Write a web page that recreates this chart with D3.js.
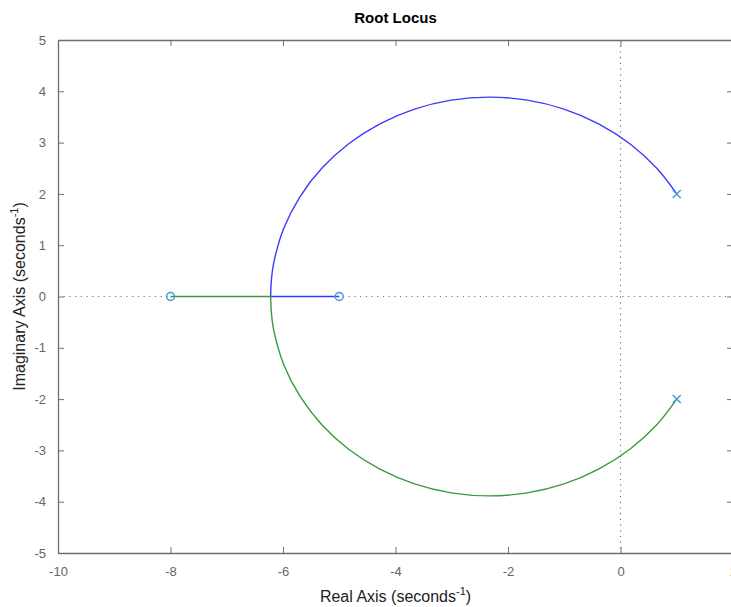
<!DOCTYPE html>
<html>
<head>
<meta charset="utf-8">
<script src="https://cdn.jsdelivr.net/npm/d3@7"></script>
<style>
  body { margin: 0; background: #fff; }
  svg { font-family: "Liberation Sans", Arial, sans-serif; }
</style>
</head>
<body>
<div class="container"></div>
<script>
// Locus branches (real, imaginary)
const blueBranch = [
  [1.0, 2.0], [0.645, 2.499], [0.166, 2.977], [-0.39, 3.366], [-1.004, 3.653],
  [-1.658, 3.828], [-2.333, 3.887], [-3.008, 3.828], [-3.662, 3.653], [-4.277, 3.366],
  [-4.832, 2.977], [-5.311, 2.499], [-5.699, 1.944], [-5.986, 1.329], [-6.161, 0.675],
  [-6.205, 0.339], [-6.22, 0], [-5.0, 0]
]
const greenBranch = [
  [1.0, -2.0], [0.645, -2.499], [0.166, -2.977], [-0.39, -3.366], [-1.004, -3.653],
  [-1.658, -3.828], [-2.333, -3.887], [-3.008, -3.828], [-3.662, -3.653], [-4.277, -3.366],
  [-4.832, -2.977], [-5.311, -2.499], [-5.699, -1.944], [-5.986, -1.329], [-6.161, -0.675],
  [-6.205, -0.339], [-6.22, 0], [-8.0, 0]
]
const poles = [[1, 2], [1, -2]]
const zeros = [[-5, 0], [-8, 0]]
const xTicks = [-10, -8, -6, -4, -2, 0, 2]
const yTicks = [-5, -4, -3, -2, -1, 0, 1, 2, 3, 4, 5]

const w = 731
const h = 607
const padLeft = 58, padTop = 40, padRight = 733, padBottom = 553
const axisColor = "#6e6e6e"
const textColor = "#666"
const markerColor = "#3f98d8"

const xScale = d3.scaleLinear().domain([-10, 2]).range([padLeft, padRight])
const yScale = d3.scaleLinear().domain([-5, 5]).range([padBottom, padTop])

const svg = d3.select(".container")
              .append("svg")
              .attr("width", w)
              .attr("height", h)

// dotted zero lines
svg.append("line")
   .attr("x1", padLeft).attr("x2", padRight)
   .attr("y1", yScale(0)).attr("y2", yScale(0))
   .attr("stroke", "#777").attr("stroke-width", 1.2)
   .attr("stroke-dasharray", "1.2,4.5")
svg.append("line")
   .attr("x1", xScale(0)).attr("x2", xScale(0))
   .attr("y1", padTop).attr("y2", padBottom)
   .attr("stroke", "#777").attr("stroke-width", 1.2)
   .attr("stroke-dasharray", "1.2,4.5")

// axes with inward ticks
const styleAxis = g => {
    g.select(".domain").attr("stroke", axisColor).attr("stroke-width", 1.3)
    g.selectAll(".tick line").attr("stroke", axisColor).attr("stroke-width", 1)
    g.selectAll(".tick text").attr("fill", textColor).style("font-size", "13px")
}
const plain = d => String(d)

svg.append("g")
   .attr("transform", `translate(0, ${padBottom})`)
   .call(d3.axisBottom(xScale).tickValues(xTicks).tickSizeInner(-6).tickSizeOuter(0).tickPadding(14).tickFormat(plain))
   .call(styleAxis)

svg.append("g")
   .attr("transform", `translate(0, ${padTop})`)
   .call(d3.axisTop(xScale).tickValues(xTicks).tickSizeInner(-6).tickSizeOuter(0).tickFormat(""))
   .call(styleAxis)

svg.append("g")
   .attr("transform", `translate(${padLeft}, 0)`)
   .call(d3.axisLeft(yScale).tickValues(yTicks).tickSizeInner(-6).tickSizeOuter(0).tickPadding(12).tickFormat(plain))
   .call(styleAxis)

svg.append("g")
   .attr("transform", `translate(${padRight}, 0)`)
   .call(d3.axisRight(yScale).tickValues(yTicks).tickSizeInner(-6).tickSizeOuter(0).tickFormat(""))
   .call(styleAxis)

// locus branches
const curve = d3.line()
                .x(d => xScale(d[0]))
                .y(d => yScale(d[1]))
                .curve(d3.curveCatmullRom)
const straight = d3.line()
                   .x(d => xScale(d[0]))
                   .y(d => yScale(d[1]))

svg.append("path")
   .datum(blueBranch.slice(0, 17))
   .attr("d", curve)
   .attr("fill", "none").attr("stroke", "#3a3aff").attr("stroke-width", 1.4)
svg.append("path")
   .datum(blueBranch.slice(16))
   .attr("d", straight)
   .attr("fill", "none").attr("stroke", "#3a3aff").attr("stroke-width", 1.6)
svg.append("path")
   .datum(greenBranch.slice(0, 17))
   .attr("d", curve)
   .attr("fill", "none").attr("stroke", "#3a9a3a").attr("stroke-width", 1.4)
svg.append("path")
   .datum(greenBranch.slice(16))
   .attr("d", straight)
   .attr("fill", "none").attr("stroke", "#3a9a3a").attr("stroke-width", 1.6)

// zeros
svg.selectAll("circle.zero")
   .data(zeros)
   .enter()
   .append("circle")
   .attr("class", "zero")
   .attr("cx", d => xScale(d[0]))
   .attr("cy", d => yScale(d[1]))
   .attr("r", 4)
   .attr("fill", "none")
   .attr("stroke", markerColor)
   .attr("stroke-width", 1.5)

// poles
svg.selectAll("path.pole")
   .data(poles)
   .enter()
   .append("path")
   .attr("class", "pole")
   .attr("transform", d => `translate(${xScale(d[0])}, ${yScale(d[1])})`)
   .attr("d", "M-4,-4L4,4M-4,4L4,-4")
   .attr("stroke", markerColor)
   .attr("stroke-width", 1.4)

// title and labels
svg.append("text")
   .attr("x", (padLeft + padRight) / 2)
   .attr("y", 23)
   .attr("text-anchor", "middle")
   .style("font-size", "15px")
   .style("font-weight", "bold")
   .text("Root Locus")

const xLabel = svg.append("text")
   .attr("x", (padLeft + padRight) / 2)
   .attr("y", 602)
   .attr("text-anchor", "middle")
   .attr("fill", "#222")
   .style("font-size", "16px")
xLabel.append("tspan").text("Real Axis (seconds")
xLabel.append("tspan").attr("dy", -7).style("font-size", "11px").text("-1")
xLabel.append("tspan").attr("dy", 7).text(")")

const yLabel = svg.append("text")
   .attr("transform", `translate(25, ${(padTop + padBottom) / 2}) rotate(-90)`)
   .attr("text-anchor", "middle")
   .attr("fill", "#222")
   .style("font-size", "16px")
yLabel.append("tspan").text("Imaginary Axis (seconds")
yLabel.append("tspan").attr("dy", -7).style("font-size", "11px").text("-1")
yLabel.append("tspan").attr("dy", 7).text(")")
</script>
</body>
</html>
